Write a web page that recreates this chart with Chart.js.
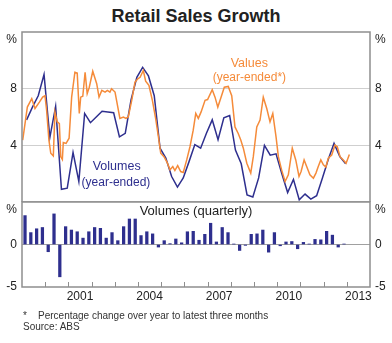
<!DOCTYPE html>
<html>
<head>
<meta charset="utf-8">
<script src="https://cdn.jsdelivr.net/npm/chart.js@4.4.0/dist/chart.umd.min.js"></script>
<style>
  body { margin: 0; background: #fff; font-family: "Liberation Sans", Arial, sans-serif; }
  #wrap { position: relative; width: 392px; height: 343px; overflow: hidden; }
  #title { position: absolute; top: 6px; left: 0; width: 392px; text-align: center; font-weight: bold; font-size: 18px; color: #222; }
  #topChart { position: absolute; left: 0; top: 20px; }
  #botChart { position: absolute; left: 0; top: 196px; }
  .note { position: absolute; font-size: 10px; color: #333; white-space: nowrap; }
</style>
</head>
<body>
<div id="wrap">
  <div id="title">Retail Sales Growth</div>
  <canvas id="topChart" width="392" height="182"></canvas>
  <canvas id="botChart" width="392" height="111"></canvas>
  <div class="note" style="left:23px;top:310px;">*&nbsp;&nbsp;&nbsp;&nbsp;Percentage change over year to latest three months</div>
  <div class="note" style="left:23px;top:321px;">Source: ABS</div>
</div>
<script>
// year-ended growth in retail values (monthly, %), decimal-year dates
const valuesDates = [
  1999.03, 1999.23, 1999.42, 1999.56, 1999.75, 1999.89, 1999.99, 2000.06, 2000.16, 2000.24,
  2000.35, 2000.42, 2000.52, 2000.61, 2000.67, 2000.74, 2000.78, 2000.90, 2001.03, 2001.14,
  2001.28, 2001.38, 2001.47, 2001.53, 2001.62, 2001.72, 2001.81, 2001.90, 2002.05, 2002.22,
  2002.32, 2002.44, 2002.58, 2002.68, 2002.79, 2002.86, 2003.01, 2003.22, 2003.37, 2003.48,
  2003.58, 2003.73, 2003.87, 2003.99, 2004.09, 2004.23, 2004.33, 2004.47, 2004.62, 2004.76,
  2004.88, 2004.98, 2005.12, 2005.26, 2005.38, 2005.50, 2005.59, 2005.71, 2005.84, 2005.95,
  2006.10, 2006.24, 2006.38, 2006.49, 2006.60, 2006.72, 2006.89, 2007.00, 2007.20, 2007.32,
  2007.44, 2007.58, 2007.72, 2007.89, 2008.04, 2008.18, 2008.32, 2008.43, 2008.54, 2008.69,
  2008.86, 2008.97, 2009.12, 2009.26, 2009.40, 2009.55, 2009.69, 2009.81, 2009.95, 2010.05,
  2010.19, 2010.34, 2010.48, 2010.65, 2010.80, 2010.94, 2011.03, 2011.16, 2011.27, 2011.41,
  2011.56, 2011.67, 2011.77, 2011.88, 2011.99, 2012.10, 2012.20, 2012.35, 2012.49, 2012.59,
  2012.71, 2012.85, 2012.97, 2013.11
];
const valuesPct = [
  4.37, 6.7, 7.3, 6.6, 7.05, 7.4, 7.5, 6.5, 4.37, 3.44,
  3.25, 6.35, 5.65, 5.54, 3.2, 3.0, 4.2, 4.14, 4.5, 7.4,
  9.16, 9.1, 6.25, 7.4, 7.46, 9.16, 7.65, 8.1, 9.23, 8.35,
  7.4, 7.88, 7.76, 7.88, 7.76, 8.0, 7.76, 5.9, 6.0, 5.9,
  6.0, 7.18, 8.46, 8.7, 8.8, 9.28, 8.53, 8.23, 7.18, 5.9,
  4.6, 3.44, 3.2, 2.78, 2.27, 2.5, 2.22, 2.57, 2.15, 2.08,
  2.97, 3.9, 5.07, 6.25, 5.9, 6.36, 7.18, 7.23, 7.93, 7.4,
  6.7, 7.4, 8.1, 8.16, 7.5, 5.3, 4.84, 4.37, 3.8, 2.74,
  2.04, 3.2, 5.3, 5.78, 7.4, 6.6, 5.66, 6.25, 4.6, 3.2,
  2.27, 1.45, 1.92, 3.8, 2.97, 1.8, 2.15, 2.97, 2.5, 1.92,
  1.68, 2.04, 2.5, 2.97, 2.62, 2.46, 3.09, 3.32, 4.02, 3.9,
  3.2, 2.97, 2.74, 3.35
];

// year-ended growth in retail volumes (quarterly, %), from 1999 Q1
const volumesPct = [
  5.8, 6.7, 7.5, 9.0, 4.55, 6.75, 0.9, 0.98, 3.5, 1.45,
  6.25, 5.6, 6.0, 6.4, 6.35, 6.3, 4.6, 4.85, 7.2, 8.8,
  9.5, 8.9, 7.5, 3.8, 3.1, 1.8, 1.05, 1.7, 2.85, 4.05,
  3.8, 4.85, 5.8, 4.4, 5.95, 6.1, 3.67, 2.7, 0.5, 0.35,
  1.7, 4.0, 3.3, 3.4, 2.0, 0.67, 1.6, 0.16, 0.56, 0.2,
  0.44, 1.7, 3.0, 4.14, 3.2, 2.7
];

// quarterly growth in retail volumes (%), from 1999 Q1
const quarterlyPct = [
  3.4, 1.4, 1.85, 2.0, -0.85, 3.6, -3.8, 2.1, 1.7, 1.5,
  0.75, 1.5, 2.0, 1.9, 0.75, 1.4, 0.45, 2.1, 3.0, 3.0,
  1.05, 1.5, 1.25, -0.3, 0.45, 0.1, 0.65, 0.2, 1.5, 1.55,
  0.5, 1.2, 2.5, 0.3, 2.0, 1.4, 0.05, -0.7, -0.1, 1.2,
  1.25, 1.7, -0.9, 1.4, -0.15, 0.3, 0.35, -0.5, 0.25, 0.05,
  0.6, 0.55, 1.55, 1.1, -0.3, 0.05
];

const yearLabels = [2001, 2004, 2007, 2010, 2013];
const topTicks = [0, 4, 8, 12];
const botTicks = [-5, 0, 5];

const ORANGE = '#f58b3a';
const NAVY = '#2e2f8e';
const FRAME = '#8e8e8e';
const FONT = '"Liberation Sans", Arial, sans-serif';

const volumeLineX = i => 1999.2 + i * 0.25;
const volumeBarX = i => 1999.13 + i * 0.25;

function tickLabel(max, min) {
  return v => {
    if (v === max) return ['', '%'];
    if (v === min && min === 0) return '';
    return String(v);
  };
}

function yAxis(pos, min, max, gridVals, gridColor) {
  return {
    position: pos,
    min, max,
    afterBuildTicks: s => { s.ticks = (min === 0 ? topTicks : botTicks).map(v => ({ value: v })); },
    afterFit: s => { s.width = 22; s.paddingTop = 0; s.paddingBottom = 0; },
    ticks: { padding: 5, color: '#222', font: { family: FONT, size: 12 }, callback: tickLabel(max, min) },
    grid: {
      display: pos === 'left',
      drawTicks: false,
      color: c => gridVals.includes(c.tick.value) ? gridColor : 'rgba(0,0,0,0)',
      lineWidth: 1
    },
    border: { display: false }
  };
}

// box round each panel
const frame = {
  id: 'frame',
  afterDraw(chart) {
    const { ctx, chartArea: a } = chart;
    ctx.save();
    ctx.strokeStyle = FRAME;
    ctx.lineWidth = 1.5;
    ctx.strokeRect(a.left, a.top, a.right - a.left, a.bottom - a.top);
    ctx.restore();
  }
};

// text labels placed in data coordinates
const labels = {
  id: 'labels',
  afterDraw(chart, args, opts) {
    const { ctx, scales } = chart;
    ctx.save();
    ctx.textAlign = 'center';
    ctx.textBaseline = 'middle';
    (opts.items || []).forEach(t => {
      ctx.fillStyle = t.color;
      ctx.font = t.size + 'px ' + FONT;
      ctx.fillText(t.text, scales.x.getPixelForValue(t.x), scales.y.getPixelForValue(t.y));
    });
    ctx.restore();
  }
};

// short year ticks standing up from the bottom axis
const yearTicks = {
  id: 'yearTicks',
  afterDraw(chart) {
    const { ctx, chartArea: a, scales } = chart;
    ctx.save();
    ctx.strokeStyle = FRAME;
    ctx.lineWidth = 1;
    for (let y = 2000; y <= 2013; y++) {
      const px = Math.round(scales.x.getPixelForValue(y)) + 0.5;
      ctx.beginPath();
      ctx.moveTo(px, a.bottom);
      ctx.lineTo(px, a.bottom - 5);
      ctx.stroke();
    }
    ctx.restore();
  }
};

new Chart(document.getElementById('topChart'), {
  type: 'line',
  data: {
    datasets: [
      {
        label: 'Values',
        data: valuesDates.map((d, i) => ({ x: d, y: valuesPct[i] })),
        borderColor: ORANGE, borderWidth: 1.5, pointRadius: 0, tension: 0
      },
      {
        label: 'Volumes',
        data: volumesPct.map((v, i) => ({ x: volumeLineX(i), y: v })),
        borderColor: NAVY, borderWidth: 1.5, pointRadius: 0, tension: 0
      }
    ]
  },
  options: {
    responsive: false,
    animation: false,
    layout: { padding: { top: 12, bottom: 0, left: 0, right: 0 } },
    plugins: {
      legend: { display: false },
      tooltip: { enabled: false },
      labels: {
        items: [
          { text: 'Values', x: 2008.8, y: 9.8, color: ORANGE, size: 12.5 },
          { text: '(year-ended*)', x: 2008.8, y: 8.75, color: ORANGE, size: 12 },
          { text: 'Volumes', x: 2003.08, y: 2.5, color: NAVY, size: 12.5 },
          { text: '(year-ended)', x: 2003.05, y: 1.38, color: NAVY, size: 12 }
        ]
      }
    },
    scales: {
      x: { type: 'linear', min: 1999, max: 2014, display: false, offset: false },
      y: yAxis('left', 0, 12, [4, 8], '#cfcfcf'),
      y2: yAxis('right', 0, 12, [], '#cfcfcf')
    }
  },
  plugins: [frame, labels]
});

new Chart(document.getElementById('botChart'), {
  type: 'bar',
  data: {
    datasets: [{
      label: 'Volumes (quarterly)',
      data: quarterlyPct.map((v, i) => ({ x: volumeBarX(i), y: v })),
      backgroundColor: NAVY,
      barThickness: 2.6
    }]
  },
  options: {
    responsive: false,
    animation: false,
    layout: { padding: { top: 6, bottom: 0, left: 0, right: 0 } },
    plugins: {
      legend: { display: false },
      tooltip: { enabled: false },
      labels: {
        items: [{ text: 'Volumes (quarterly)', x: 2006.5, y: 3.86, color: '#222', size: 13 }]
      }
    },
    scales: {
      x: {
        type: 'linear', min: 1999, max: 2014, offset: false,
        afterBuildTicks: s => { s.ticks = yearLabels.map(v => ({ value: v })); },
        afterFit: s => { s.height = 20; s.paddingLeft = 0; s.paddingRight = 0; },
        ticks: {
          padding: 2, maxRotation: 0, autoSkip: false,
          labelOffset: 11.6,
          color: '#222', font: { family: FONT, size: 12 },
          callback: v => String(v)
        },
        grid: { display: false, drawTicks: false, offset: false },
        border: { display: false }
      },
      y: yAxis('left', -5, 5, [0], '#a0a0a0'),
      y2: yAxis('right', -5, 5, [], '#a0a0a0')
    }
  },
  plugins: [frame, labels, yearTicks]
});
</script>
</body>
</html>
